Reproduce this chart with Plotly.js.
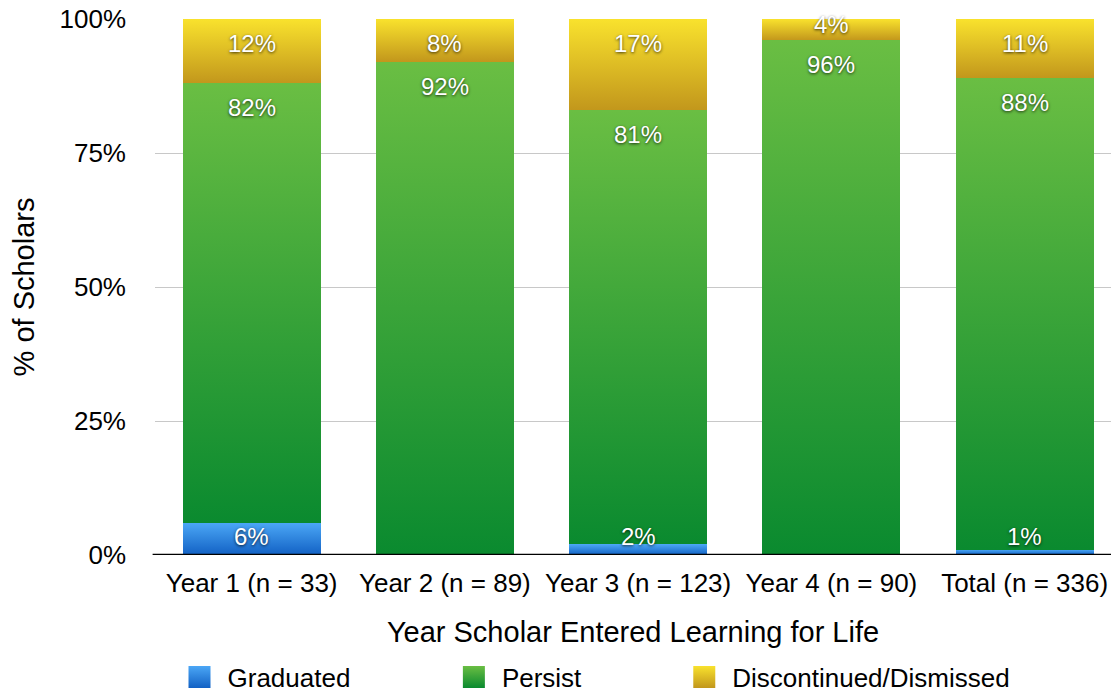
<!DOCTYPE html>
<html><head><meta charset="utf-8">
<script src="https://cdn.plot.ly/plotly-3.0.1.min.js"></script>
<style>html,body{margin:0;padding:0;background:#fff;overflow:hidden}</style>
</head><body><div id="chart" style="width:1111px;height:692px"></div>
<script>
const categories = ['Year 1 (n = 33)', 'Year 2 (n = 89)', 'Year 3 (n = 123)', 'Year 4 (n = 90)', 'Total (n = 336)'];
const graduated = [6, 0, 2, 0, 1];
const persist = [82, 92, 81, 96, 88];
const discontinued = [12, 8, 17, 4, 11];
const seriesNames = ['Graduated', 'Persist', 'Discontinued/Dismissed'];
const yTickVals = [0, 25, 50, 75, 100];
const yTickText = ['0%', '25%', '50%', '75%', '100%'];

const FONT = 'Liberation Sans, Arial, Helvetica, sans-serif';
const solid = ['#2f86dd', '#3aa53a', '#e0bd25'];
const grads = [['#4ba7f6', '#1261c4'], ['#6abe43', '#0a8a2f'], ['#f9e22d', '#c2971c']];
const series = [graduated, persist, discontinued];
const legendNames = ['legend', 'legend2', 'legend3'];

const traces = series.map((vals, s) => ({
  type: 'bar', x: categories, y: vals, name: seriesNames[s],
  marker: {color: solid[s], line: {width: 0}},
  hoverinfo: 'none', textposition: 'none', legend: legendNames[s]
}));

// value labels: near the top of each segment, kept above the baseline
const annotations = [];
categories.forEach((c, i) => {
  let base = 0;
  series.forEach((vals, s) => {
    const v = vals[i];
    const top = base + v;
    base = top;
    if (v <= 0) return;
    const off = v < 5 ? 1 : 4.5;
    annotations.push({
      x: c, y: Math.max(top - off, 3.5), xref: 'x', yref: 'y',
      text: v + '%', showarrow: false, yanchor: 'middle',
      font: {family: FONT, size: 24, color: '#ffffff', shadow: '0px 1px 3px rgba(0,0,0,0.75)'}
    });
  });
});

const legendX = [0.034, 0.321, 0.562];
const legendBase = {orientation: 'h', y: -0.2276, yanchor: 'middle', xanchor: 'left',
  font: {family: FONT, size: 26, color: '#000'}, bgcolor: 'rgba(0,0,0,0)', borderwidth: 0};

const layout = {
  width: 1111, height: 692,
  margin: {l: 155, r: 0, t: 19, b: 137, autoexpand: false},
  paper_bgcolor: '#fff', plot_bgcolor: '#fff',
  font: {family: FONT, color: '#000'},
  barmode: 'stack', bargap: 0.286,
  showlegend: true,
  legend: Object.assign({}, legendBase, {x: legendX[0]}),
  legend2: Object.assign({}, legendBase, {x: legendX[1]}),
  legend3: Object.assign({}, legendBase, {x: legendX[2]}),
  xaxis: {
    type: 'category', range: [-0.5, 4.447], showgrid: false, zeroline: false, showline: false,
    ticks: '', tickfont: {family: FONT, size: 26, color: '#000'}, ticklabelstandoff: 10,
    title: {text: 'Year Scholar Entered Learning for Life', font: {family: FONT, size: 29, color: '#000'}, standoff: 24}
  },
  yaxis: {
    range: [0, 100], tickvals: yTickVals, ticktext: yTickText,
    showgrid: true, gridcolor: '#c8c8c8', gridwidth: 1, zeroline: false, showline: false,
    ticks: '', tickfont: {family: FONT, size: 26, color: '#000'}, ticklabelstandoff: 28,
    title: {text: '% of Scholars', font: {family: FONT, size: 29, color: '#000'}, standoff: 16}
  },
  shapes: [{type: 'line', xref: 'paper', yref: 'y', x0: -0.0025, x1: 1, y0: 0, y1: 0,
    line: {color: '#000', width: 2.5}, layer: 'above'}],
  annotations: annotations
};

Plotly.newPlot('chart', traces, layout, {displayModeBar: false, staticPlot: true}).then(gd => {
  const svg = gd.querySelector('.main-svg');
  const ns = 'http://www.w3.org/2000/svg';
  let defs = svg.querySelector('defs');
  if (!defs) { defs = document.createElementNS(ns, 'defs'); svg.insertBefore(defs, svg.firstChild); }
  grads.forEach((g, s) => {
    const lg = document.createElementNS(ns, 'linearGradient');
    lg.setAttribute('id', 'barGrad' + s);
    lg.setAttribute('x1', '0'); lg.setAttribute('y1', '0'); lg.setAttribute('x2', '0'); lg.setAttribute('y2', '1');
    [[0, g[0]], [1, g[1]]].forEach(([o, c]) => {
      const st = document.createElementNS(ns, 'stop');
      st.setAttribute('offset', o); st.setAttribute('stop-color', c);
      lg.appendChild(st);
    });
    defs.appendChild(lg);
  });
  gd.querySelectorAll('.barlayer .trace').forEach((tr, s) => {
    tr.querySelectorAll('path').forEach(p => { p.style.fill = 'url(#barGrad' + s + ')'; });
  });
  legendNames.forEach((ln, s) => {
    const grp = svg.querySelector('g.' + ln) || gd.querySelector('g.' + ln);
    const pts = grp ? grp.querySelectorAll('.legendpoints path') : [];
    pts.forEach(p => {
      p.setAttribute('d', 'M3,11H-19V-11H3Z');
      p.style.fill = 'url(#barGrad' + s + ')';
    });
  });
});
</script>
</body></html>
